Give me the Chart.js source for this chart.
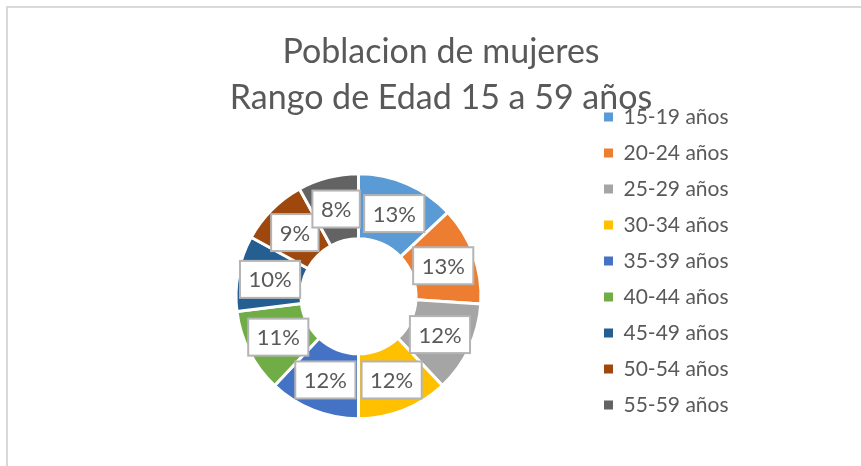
<!DOCTYPE html>
<html>
<head>
<meta charset="utf-8">
<script src="https://cdn.jsdelivr.net/npm/chart.js@4"></script>
<style>
  html, body { margin: 0; padding: 0; background: #fff; overflow: hidden; }
  .frame {
    position: absolute;
    left: 6px;
    top: 6px;
    width: 900px;
    height: 500px;
    border-left: 2px solid #d9d9d9;
    border-top: 2px solid #d9d9d9;
  }
  canvas { display: block; }
</style>
</head>
<body>
<div class="frame">
  <canvas id="chart" width="866" height="458"></canvas>
</div>
<script>
const AGE_GROUPS = [
  "15-19 años", "20-24 años", "25-29 años", "30-34 años", "35-39 años",
  "40-44 años", "45-49 años", "50-54 años", "55-59 años",
];
const SHARES = [13, 13, 12, 12, 12, 11, 10, 9, 8];
const SLICE_COLORS = [
  "#5b9bd5", "#ed7d31", "#a5a5a5", "#ffc000", "#4472c4",
  "#70ad47", "#255e91", "#9e480e", "#636363",
];
const TITLE_LINES = ["Poblacion de mujeres", "Rango de Edad 15 a 59 años"];

const TEXT_COLOR = "#595959";
const FONT = "Lato, 'Open Sans', sans-serif";

// empty box between the doughnut and the legend, like the gap Excel leaves
function createLegendGapPlugin(gap) {
  return {
    id: "legend-gap",
    start(chart) {
      Chart.layouts.addBox(chart, {
        position: "right",
        weight: 0,
        fullSize: false,
        options: {},
        left: 0, top: 0, right: 0, bottom: 0, width: 0, height: 0,
        isHorizontal() { return false; },
        update(maxWidth, maxHeight) {
          this.width = gap;
          this.height = maxHeight;
        },
        draw() {},
      });
    },
  };
}

function createBoxedLabelPlugin() {
  return {
    id: "boxed-percent-labels",
    afterDatasetsDraw(chart) {
      const { ctx } = chart;
      const dataset = chart.data.datasets[0];
      const total = dataset.data.reduce((sum, v) => sum + v, 0);
      const meta = chart.getDatasetMeta(0);
      ctx.save();
      ctx.font = `22px ${FONT}`;
      ctx.textAlign = "center";
      ctx.textBaseline = "middle";
      meta.data.forEach((arc, index) => {
        const text = `${Math.round((dataset.data[index] / total) * 100)}%`;
        const pos = arc.tooltipPosition();
        const w = ctx.measureText(text).width + 17;
        const h = 37;
        ctx.fillStyle = "#ffffff";
        ctx.fillRect(pos.x - w / 2, pos.y - h / 2, w, h);
        ctx.strokeStyle = "#b4b4b4";
        ctx.lineWidth = 2;
        ctx.strokeRect(pos.x - w / 2, pos.y - h / 2, w, h);
        ctx.fillStyle = TEXT_COLOR;
        ctx.fillText(text, pos.x, pos.y + 1);
      });
      ctx.restore();
    },
  };
}

new Chart(document.getElementById("chart"), {
  type: "doughnut",
  data: {
    labels: AGE_GROUPS,
    datasets: [
      {
        data: SHARES,
        backgroundColor: SLICE_COLORS,
        borderColor: "#ffffff",
        borderWidth: 3,
      },
    ],
  },
  options: {
    responsive: false,
    animation: false,
    radius: 122.5,
    cutout: "47%",
    layout: { padding: { left: 137, right: 137, top: 0, bottom: 35.5 } },
    plugins: {
      title: {
        display: true,
        text: TITLE_LINES,
        color: TEXT_COLOR,
        font: { family: FONT, size: 34, weight: "normal", lineHeight: 46 / 34 },
        padding: { top: 21, bottom: 41 },
      },
      legend: {
        position: "right",
        align: "end",
        labels: {
          color: TEXT_COLOR,
          font: { family: FONT, size: 21 },
          boxWidth: 9,
          boxHeight: 9,
          padding: 15,
          generateLabels(chart) {
            return Chart.overrides.doughnut.plugins.legend.labels
              .generateLabels(chart)
              .map((item) => ({ ...item, lineWidth: 0, fontColor: TEXT_COLOR }));
          },
        },
      },
      tooltip: { enabled: false },
    },
  },
  plugins: [createLegendGapPlugin(17), createBoxedLabelPlugin()],
});
</script>
</body>
</html>
